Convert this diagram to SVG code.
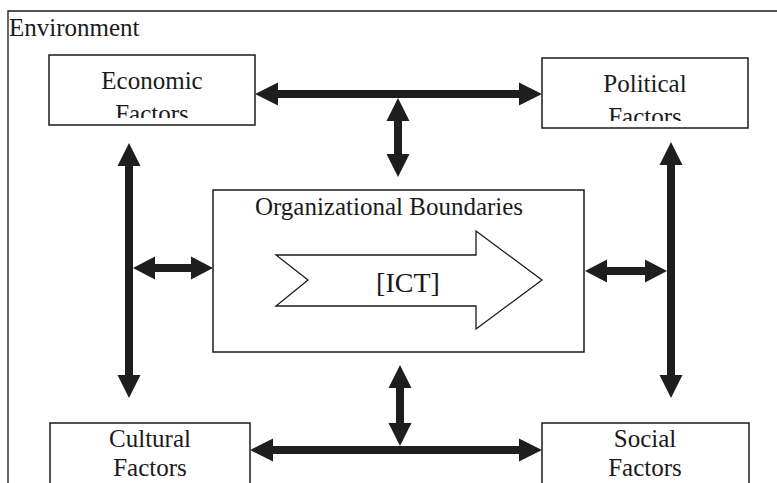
<svg xmlns="http://www.w3.org/2000/svg" width="777" height="483" viewBox="0 0 777 483">
  <style>
    .box { fill: #fff; stroke: #1a1a1a; stroke-width: 1.5; }
    .frame { fill: none; stroke: #1a1a1a; stroke-width: 1.3; }
    .label { font-family: "Liberation Serif", "Times New Roman", serif; font-size: 25px; fill: #1a1a1a; text-anchor: middle; }
    .title { text-anchor: start; }
    .ict { font-size: 28px; }
    .conn { fill: #1e1e1e; stroke: none; }
    .hollow { fill: #fff; stroke: #1a1a1a; stroke-width: 1.3; }
  </style>
  <defs>
    <clipPath id="clip-econ"><rect x="50" y="56" width="204" height="62"/></clipPath>
    <clipPath id="clip-pol"><rect x="543" y="59" width="204" height="62"/></clipPath>
  </defs>

  <rect width="777" height="483" fill="#fff"/>

  <!-- environment frame: only left and top edges fall inside the view -->
  <g id="environment">
    <path class="frame" d="M8,483 V11 H777"/>
    <text class="label title" x="9" y="36">Environment</text>
  </g>

  <g id="economic">
    <rect class="box" x="49" y="55" width="206" height="70"/>
    <g clip-path="url(#clip-econ)">
      <text class="label" x="152" y="89">Economic</text>
      <text class="label" x="152" y="122">Factors</text>
    </g>
  </g>

  <g id="political">
    <rect class="box" x="542" y="58" width="206" height="70"/>
    <g clip-path="url(#clip-pol)">
      <text class="label" x="645" y="92">Political</text>
      <text class="label" x="645" y="125">Factors</text>
    </g>
  </g>

  <g id="cultural">
    <rect class="box" x="50" y="423" width="200" height="70"/>
    <text class="label" x="150" y="447">Cultural</text>
    <text class="label" x="150" y="476">Factors</text>
  </g>

  <g id="social">
    <rect class="box" x="542" y="423" width="207" height="70"/>
    <text class="label" x="645" y="447">Social</text>
    <text class="label" x="645" y="476">Factors</text>
  </g>

  <g id="organization">
    <rect class="box" x="213" y="190" width="371" height="162"/>
    <text class="label" x="389" y="215">Organizational Boundaries</text>
    <polygon class="hollow" points="276,255 476,255 476,231 542,280 476,329 476,306 276,306 308,280"/>
    <text class="label ict" x="408" y="292">[ICT]</text>
  </g>

  <!-- double-headed connectors: shaft 8px, heads 23px wide x 23px long -->
  <g id="connectors">
    <!-- top: economic <-> political -->
    <polygon class="conn" points="255,94 278,82.5 278,90 519,90 519,82.5 542,94 519,105.5 519,98 278,98 278,105.5"/>
    <!-- top bar <-> organization -->
    <polygon class="conn" points="398,98 409.5,121 402,121 402,154 409.5,154 398,177 386.5,154 394,154 394,121 386.5,121"/>
    <!-- left: economic <-> cultural -->
    <polygon class="conn" points="129,143 140.5,166 133,166 133,375 140.5,375 129,398 117.5,375 125,375 125,166 117.5,166"/>
    <!-- left bar <-> organization -->
    <polygon class="conn" points="133,268 155,256.5 155,264 191,264 191,256.5 213,268 191,279.5 191,272 155,272 155,279.5"/>
    <!-- right: political <-> social -->
    <polygon class="conn" points="671,142 682.5,165 675,165 675,375 682.5,375 671,398 659.5,375 667,375 667,165 659.5,165"/>
    <!-- organization <-> right bar -->
    <polygon class="conn" points="585,271 607,259.5 607,267 645,267 645,259.5 667,271 645,282.5 645,275 607,275 607,282.5"/>
    <!-- organization <-> bottom bar -->
    <polygon class="conn" points="400,365 411.5,388 404,388 404,423 411.5,423 400,446 388.5,423 396,423 396,388 388.5,388"/>
    <!-- bottom: cultural <-> social -->
    <polygon class="conn" points="250,450 273,438.5 273,446 519,446 519,438.5 542,450 519,461.5 519,454 273,454 273,461.5"/>
  </g>
</svg>
